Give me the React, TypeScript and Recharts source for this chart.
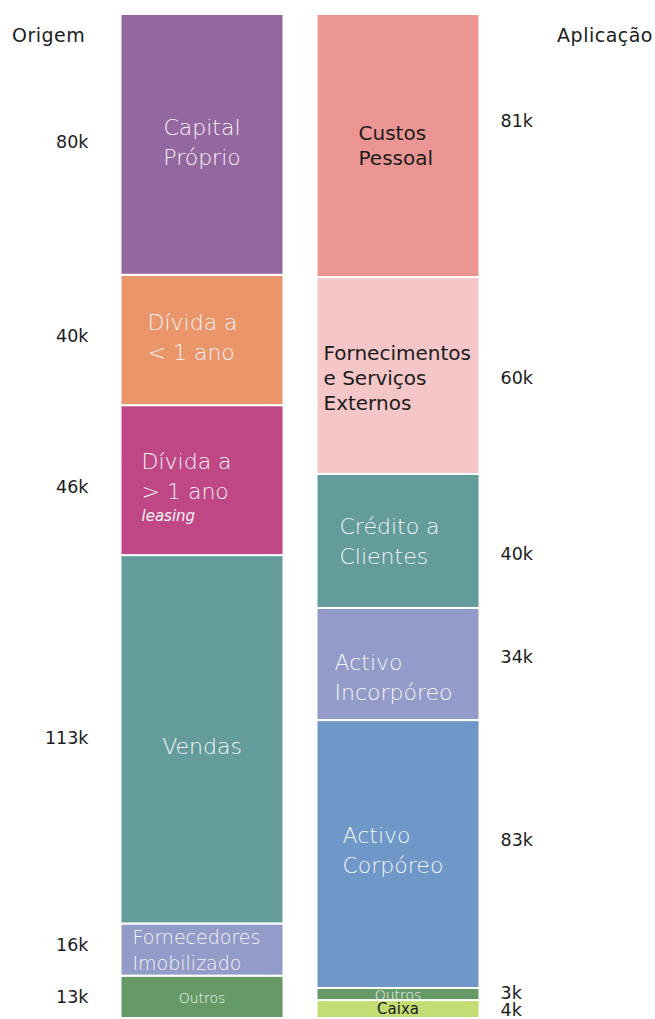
import { BarChart, Bar, XAxis, YAxis } from "recharts"

const columns=["Origem","Aplicação"]

const origemNames=["Capital Próprio","Dívida a < 1 ano","Dívida a > 1 ano","Vendas","Fornecedores Imobilizado","Outros"]
const origemValues=[80,40,46,113,16,13]
const origemTicks=["80k","40k","46k","113k","16k","13k"]
const origemLines=[["Capital","Próprio"],["Dívida a","< 1 ano"],["Dívida a","> 1 ano"],["Vendas"],["Fornecedores","Imobilizado"],["Outros"]]
const origemNotes=["","","leasing","","",""]

const aplicacaoNames=["Custos Pessoal","Fornecimentos e Serviços Externos","Crédito a Clientes","Activo Incorpóreo","Activo Corpóreo","Outros","Caixa"]
const aplicacaoValues=[80.7,60.4,41.1,34.4,82.2,3.7,5.5]
const aplicacaoTicks=["81k","60k","40k","34k","83k","3k","4k"]
const aplicacaoLines=[["Custos","Pessoal"],["Fornecimentos","e Serviços","Externos"],["Crédito a","Clientes"],["Activo","Incorpóreo"],["Activo","Corpóreo"],["Outros"],["Caixa"]]

const FONT='"DejaVu Sans", Verdana, sans-serif'
const WHITE="#f7f4f6"
const DARK="#1c1c1c"

// look of each segment, top to bottom (fill, label colour/size/alignment, small nudges)
const origemLook=[
 {fill:"#9467a0",color:WHITE,size:22,lh:30,align:"middle",dx:0,dy:-2,tdy:-2},
 {fill:"#eb956a",color:WHITE,size:22,lh:30,align:"start",dx:27,dy:-2,tdy:-4},
 {fill:"#c04785",color:WHITE,size:22,lh:30,align:"start",dx:21,dy:9,tdy:7},
 {fill:"#639c9a",color:WHITE,size:22,lh:30,align:"middle",dx:0,dy:7,tdy:-1},
 {fill:"#939bc9",color:WHITE,size:19,lh:26,align:"start",dx:12,dy:0,tdy:-5},
 {fill:"#659a67",color:WHITE,size:14,lh:16,align:"middle",dx:0,dy:1,tdy:0}
]
const aplicacaoLook=[
 {fill:"#ec9694",color:DARK,size:20,lh:25,align:"start",dx:42,dy:0,tdy:-25},
 {fill:"#f4c6c8",color:DARK,size:20,lh:25,align:"start",dx:7,dy:2,tdy:2},
 {fill:"#639c9a",color:WHITE,size:22,lh:30,align:"start",dx:23,dy:1,tdy:13},
 {fill:"#939bc9",color:WHITE,size:22,lh:30,align:"start",dx:18,dy:14,tdy:-7},
 {fill:"#6f98c9",color:WHITE,size:22,lh:30,align:"start",dx:26,dy:-4,tdy:-14},
 {fill:"#659a67",color:WHITE,size:14,lh:16,align:"middle",dx:0,dy:1,tdy:-1},
 {fill:"#c2dd74",color:DARK,size:15,lh:16,align:"middle",dx:0,dy:0,tdy:1}
]

const rowO:any={name:columns[0]}
origemValues.forEach((v,i)=>{rowO["o"+i]=v})
const rowA:any={name:columns[1]}
aplicacaoValues.forEach((v,i)=>{rowA["a"+i]=v})
const data=[rowO,rowA]

const segs=[
 ...origemNames.map((n,i)=>({key:"o"+i,name:n,side:"left",lines:origemLines[i],note:origemNotes[i],tick:origemTicks[i],...origemLook[i]})),
 ...aplicacaoNames.map((n,i)=>({key:"a"+i,name:n,side:"right",lines:aplicacaoLines[i],note:"",tick:aplicacaoTicks[i],...aplicacaoLook[i]}))
]

const makeShape=(seg:any)=>(p:any)=>{
 const {x,y,width,height}=p
 if(!height||height<=0||p.payload==null||p.payload[seg.key]==null) return <g/>
 const noteH=seg.note?26:0
 const blockH=seg.lines.length*seg.lh+noteH
 const cy=y+height/2+seg.dy
 const top=cy-blockH/2
 const tx=seg.align==="middle"?x+width/2:x+seg.dx
 const weight=seg.color===WHITE?300:400
 return(
  <g>
   <rect x={x} y={y} width={width} height={height} fill={seg.fill} stroke="#fff" strokeWidth={2}/>
   {seg.lines.map((l:string,i:number)=>(
    <text key={i} x={tx} y={top+seg.lh*(i+0.5)} textAnchor={seg.align} dominantBaseline="central"
     fill={seg.color} fontSize={seg.size} fontFamily={FONT} fontWeight={weight}>{l}</text>
   ))}
   {seg.note&&(
    <text x={tx} y={top+seg.lines.length*seg.lh+noteH/2-3} textAnchor={seg.align} dominantBaseline="central"
     fill={seg.color} fontSize={15} fontStyle="italic" fontFamily={FONT} fontWeight={weight}>{seg.note}</text>
   )}
   <text x={seg.side==="left"?x-32:x+width+21} y={y+height/2+seg.tdy} textAnchor={seg.side==="left"?"end":"start"}
    dominantBaseline="central" fill={DARK} fontSize={17.5} fontFamily={FONT}>{seg.tick}</text>
  </g>
 )
}

export default function App(){

 // bottom segment first so the stack reads top-down like the lists
 const ordered=[
  ...segs.filter(s=>s.side==="left").reverse(),
  ...segs.filter(s=>s.side==="right").reverse()
 ]

 return(
  <div style={{position:"absolute",left:0,top:0,width:655,height:1019,background:"#fff"}}>

   <BarChart width={655} height={1019} data={data} barSize={163}
    margin={{top:14,right:159.5,bottom:1,left:103.5}}>
    <XAxis dataKey="name" hide/>
    <YAxis hide domain={[0,308]} allowDataOverflow/>
    {ordered.map(s=>(
     <Bar key={s.key} dataKey={s.key} name={s.name} stackId="s" fill={s.fill}
      isAnimationActive={false} shape={makeShape(s)}/>
    ))}
   </BarChart>

   <svg width={655} height={60} style={{position:"absolute",left:0,top:0}}>
    <text x={12} y={34.5} dominantBaseline="central" fontSize={19} letterSpacing={0.5} fontFamily={FONT} fill={DARK}>{columns[0]}</text>
    <text x={653} y={34.5} textAnchor="end" dominantBaseline="central" fontSize={19} letterSpacing={0.5} fontFamily={FONT} fill={DARK}>{columns[1]}</text>
   </svg>

  </div>
 )
}
